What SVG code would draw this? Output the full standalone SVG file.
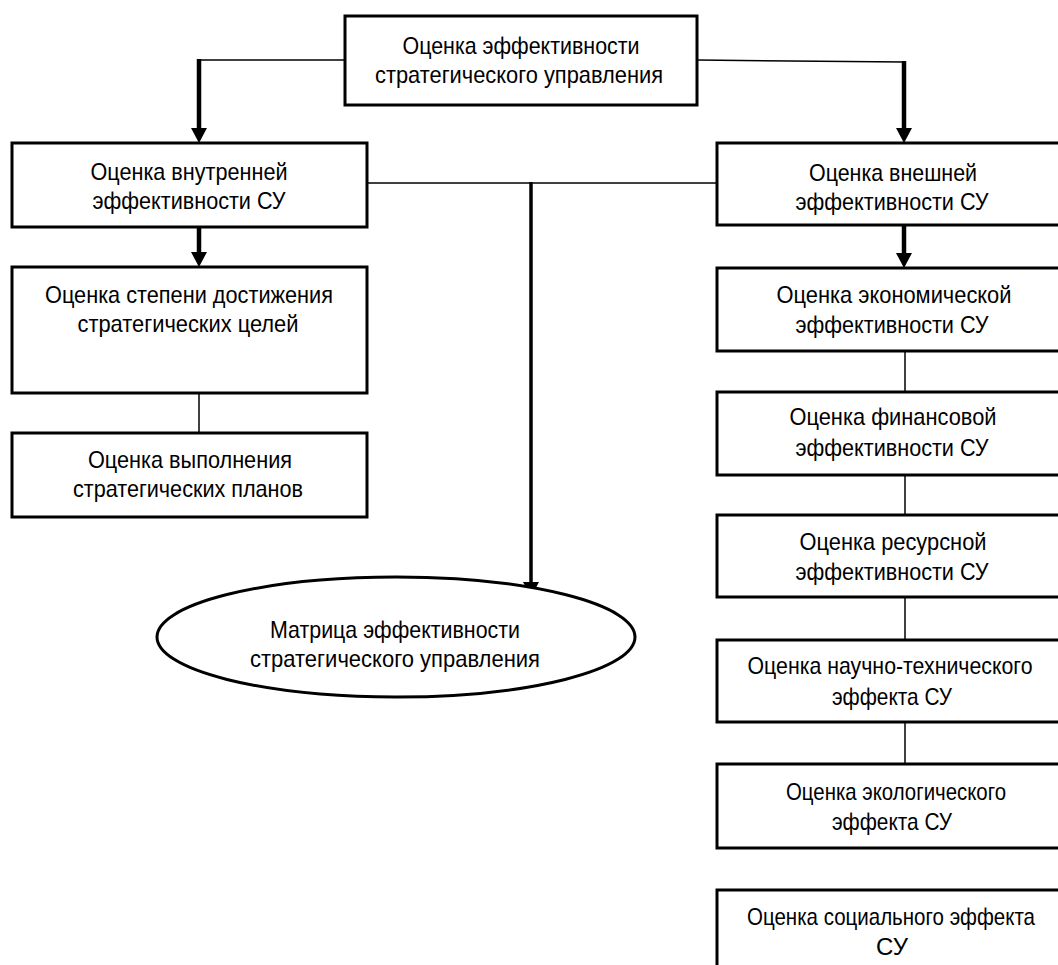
<svg xmlns="http://www.w3.org/2000/svg" width="1058" height="965" viewBox="0 0 1058 965">
<style>
.box{fill:#fff;stroke:#000;stroke-width:3}
.t{font-family:"Liberation Sans",Arial,sans-serif;font-size:24px;fill:#000;text-anchor:middle}
.thin{fill:none;stroke:#000;stroke-width:1.5}
.thick{fill:none;stroke:#000;stroke-width:4.5}
.mid{fill:none;stroke:#000;stroke-width:3.5}
</style>
<defs>
<marker id="ah" markerUnits="userSpaceOnUse" markerWidth="16" markerHeight="17" refX="0" refY="8" orient="auto" overflow="visible">
<path d="M0,0 L15,8 L0,16 z" fill="#000"/>
</marker>
</defs>
<rect width="1058" height="965" fill="#fff"/>
<g id="connectors">
<path class="thin" d="M345,60 H199"/>
<path class="thick" d="M199,59 V128" marker-end="url(#ah)"/>
<path class="thin" d="M697,60 L904,62"/>
<path class="thick" d="M904,61 V128" marker-end="url(#ah)"/>
<path class="thick" d="M199,227 V252" marker-end="url(#ah)"/>
<path class="thick" d="M904,225 V253" marker-end="url(#ah)"/>
<path class="thin" d="M367,183 H717"/>
<path class="mid" d="M531,182 V582" marker-end="url(#ah)"/>
<path class="thin" d="M199,393 V433"/>
<path class="thin" d="M905,351 V392"/>
<path class="thin" d="M905,475 V515"/>
<path class="thin" d="M905,597 V640"/>
<path class="thin" d="M905,722 V764"/>
</g>
<g id="n-top">
<rect class="box" x="345" y="16" width="352" height="89"/>
<text class="t" x="521" y="54" textLength="237" lengthAdjust="spacingAndGlyphs">Оценка эффективности</text>
<text class="t" x="519" y="83" textLength="288" lengthAdjust="spacingAndGlyphs">стратегического управления</text>
</g>
<g id="n-internal">
<rect class="box" x="12" y="143" width="355" height="84"/>
<text class="t" x="189" y="180" textLength="197" lengthAdjust="spacingAndGlyphs">Оценка внутренней</text>
<text class="t" x="189" y="209" textLength="193" lengthAdjust="spacingAndGlyphs">эффективности СУ</text>
</g>
<g id="n-external">
<rect class="box" x="717" y="143" width="352" height="82"/>
<text class="t" x="893" y="181" textLength="168" lengthAdjust="spacingAndGlyphs">Оценка внешней</text>
<text class="t" x="892" y="210" textLength="193" lengthAdjust="spacingAndGlyphs">эффективности СУ</text>
</g>
<g id="n-degree">
<rect class="box" x="12" y="267" width="355" height="126"/>
<text class="t" x="189" y="303" textLength="288" lengthAdjust="spacingAndGlyphs">Оценка степени достижения</text>
<text class="t" x="188" y="332" textLength="221" lengthAdjust="spacingAndGlyphs">стратегических целей</text>
</g>
<g id="n-plans">
<rect class="box" x="12" y="433" width="355" height="84"/>
<text class="t" x="190" y="468" textLength="204" lengthAdjust="spacingAndGlyphs">Оценка выполнения</text>
<text class="t" x="188" y="497" textLength="230" lengthAdjust="spacingAndGlyphs">стратегических планов</text>
</g>
<g id="n-matrix">
<ellipse cx="396" cy="637" rx="239" ry="60" fill="#fff" stroke="#000" stroke-width="3"/>
<text class="t" x="395" y="638" textLength="250" lengthAdjust="spacingAndGlyphs">Матрица эффективности</text>
<text class="t" x="395" y="667" textLength="290" lengthAdjust="spacingAndGlyphs">стратегического управления</text>
</g>
<g id="n-econ">
<rect class="box" x="717" y="268" width="352" height="83"/>
<text class="t" x="894" y="303" textLength="235" lengthAdjust="spacingAndGlyphs">Оценка экономической</text>
<text class="t" x="892" y="333" textLength="193" lengthAdjust="spacingAndGlyphs">эффективности СУ</text>
</g>
<g id="n-fin">
<rect class="box" x="717" y="392" width="352" height="83"/>
<text class="t" x="893" y="425" textLength="207" lengthAdjust="spacingAndGlyphs">Оценка финансовой</text>
<text class="t" x="892" y="456" textLength="193" lengthAdjust="spacingAndGlyphs">эффективности СУ</text>
</g>
<g id="n-res">
<rect class="box" x="717" y="515" width="352" height="82"/>
<text class="t" x="893" y="550" textLength="187" lengthAdjust="spacingAndGlyphs">Оценка ресурсной</text>
<text class="t" x="892" y="580" textLength="193" lengthAdjust="spacingAndGlyphs">эффективности СУ</text>
</g>
<g id="n-sci">
<rect class="box" x="717" y="640" width="352" height="82"/>
<text class="t" x="890" y="674" textLength="285" lengthAdjust="spacingAndGlyphs">Оценка научно-технического</text>
<text class="t" x="892" y="705" textLength="120" lengthAdjust="spacingAndGlyphs">эффекта СУ</text>
</g>
<g id="n-eco">
<rect class="box" x="717" y="764" width="352" height="84"/>
<text class="t" x="896" y="800" textLength="220" lengthAdjust="spacingAndGlyphs">Оценка экологического</text>
<text class="t" x="892" y="830" textLength="120" lengthAdjust="spacingAndGlyphs">эффекта СУ</text>
</g>
<g id="n-soc">
<rect class="box" x="717" y="890" width="352" height="84"/>
<text class="t" x="891" y="925" textLength="288" lengthAdjust="spacingAndGlyphs">Оценка социального эффекта</text>
<text class="t" x="892" y="955">СУ</text>
</g>
</svg>
